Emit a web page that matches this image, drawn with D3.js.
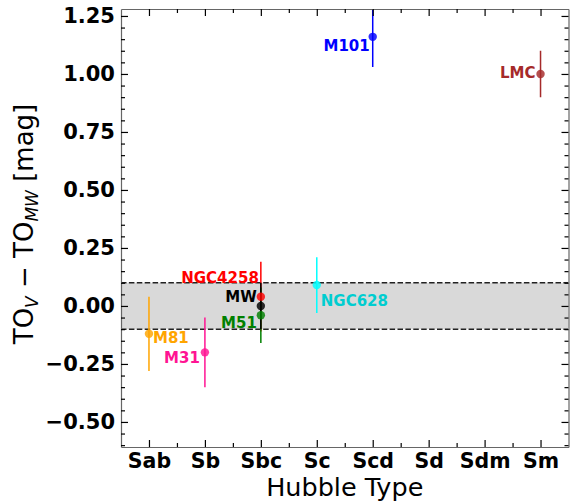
<!DOCTYPE html>
<html>
<head>
<meta charset="utf-8">
<script src="https://cdn.jsdelivr.net/npm/d3@7"></script>
<style>
  body { margin: 0; background: #fff; }
  svg { display: block; }
</style>
</head>
<body>
<svg id="chart" width="570" height="503"></svg>
<script>
// Hubble types along the x axis
const hubbleTypes = ["Sab", "Sb", "Sbc", "Sc", "Scd", "Sd", "Sdm", "Sm"];

// Galaxies, their morphological type, turnoff offset and its uncertainty
const galaxies    = ["M81", "M31", "NGC4258", "M51", "MW", "NGC628", "M101", "LMC"];
const galaxyTypes = ["Sab", "Sb",  "Sbc",     "Sbc", "Sbc", "Sc",    "Scd",  "Sm"];
const deltaTO     = [-0.12, -0.20, 0.04,      -0.04, 0.00,  0.09,    1.16,   1.00];
const deltaErr    = [0.16,  0.15,  0.15,      0.12,  0.10,  0.12,    0.13,   0.10];

// Y axis ticks and the shaded +/- band around the Milky Way value
const yTicks = [-0.50, -0.25, 0.00, 0.25, 0.50, 0.75, 1.00, 1.25];
const bandHalfWidth = [0.10];

// Appearance of each galaxy
const colorOf = {
  M81: "#ffa500", M31: "#ff1493", NGC4258: "#ff0000", M51: "#008000",
  MW: "#000000", NGC628: "#00ffff", M101: "#0000ff", LMC: "#a52a2a"
};
const textColorOf = Object.assign({}, colorOf, { NGC628: "#00cdd0" });
// Label placement relative to each marker
const labelLayout = {
  M81:     { dx: 4,  dy: 9,   anchor: "start" },
  M31:     { dx: -5, dy: 11,  anchor: "end" },
  NGC4258: { dx: -2, dy: -14, anchor: "end" },
  M51:     { dx: -4, dy: 13,  anchor: "end" },
  MW:      { dx: -4, dy: -4,  anchor: "end" },
  NGC628:  { dx: 4,  dy: 21,  anchor: "start" },
  M101:    { dx: -3, dy: 14,  anchor: "end" },
  LMC:     { dx: -5, dy: 4,   anchor: "end" }
};
// Bars are drawn in this order so the Milky Way bar sits on top
const barOrder = ["M81", "M31", "NGC4258", "M51", "MW", "NGC628", "M101", "LMC"];

const svg = d3.select("#chart");
const plotLeft = 121, plotRight = 568.5, plotTop = 9, plotBottom = 447;

const x = d3.scalePoint().domain(hubbleTypes).range([plotLeft, plotRight]).padding(0.5);
const y = d3.scaleLinear().domain([-0.608, 1.28]).range([plotBottom, plotTop]);

const font = "'DejaVu Sans', 'Liberation Sans', sans-serif";

const rows = galaxies.map((g, i) => ({
  name: g, type: galaxyTypes[i], value: deltaTO[i], err: deltaErr[i]
}));

// clipping for the plot area
svg.append("defs").append("clipPath").attr("id", "plotClip")
  .append("rect").attr("x", plotLeft).attr("y", plotTop)
  .attr("width", plotRight - plotLeft).attr("height", plotBottom - plotTop);

const plot = svg.append("g").attr("clip-path", "url(#plotClip)");

// shaded band
const hw = bandHalfWidth[0];
plot.append("rect")
  .attr("x", plotLeft).attr("width", plotRight - plotLeft)
  .attr("y", y(hw)).attr("height", y(-hw) - y(hw))
  .attr("fill", "#d9d9d9");

plot.selectAll("line.band")
  .data([hw, -hw])
  .join("line")
  .attr("class", "band")
  .attr("x1", plotLeft).attr("x2", plotRight)
  .attr("y1", d => y(d)).attr("y2", d => y(d))
  .attr("stroke", "#222").attr("stroke-width", 1.5)
  .attr("stroke-dasharray", "5.5,2.4");

// error bars
const byName = Object.fromEntries(rows.map(r => [r.name, r]));
plot.selectAll("line.err")
  .data(barOrder.map(n => byName[n]))
  .join("line")
  .attr("class", "err")
  .attr("x1", d => x(d.type)).attr("x2", d => x(d.type))
  .attr("y1", d => y(d.value + d.err)).attr("y2", d => y(d.value - d.err))
  .attr("stroke", d => colorOf[d.name]).attr("stroke-width", 1.5);

// markers
plot.selectAll("circle.pt")
  .data(barOrder.map(n => byName[n]))
  .join("circle")
  .attr("class", "pt")
  .attr("cx", d => x(d.type)).attr("cy", d => y(d.value))
  .attr("r", 4.2)
  .attr("fill", d => colorOf[d.name])
  .attr("fill-opacity", 0.82);

// galaxy labels
svg.append("g").selectAll("text.lbl")
  .data(rows)
  .join("text")
  .attr("class", "lbl")
  .attr("x", d => x(d.type) + labelLayout[d.name].dx)
  .attr("y", d => y(d.value) + labelLayout[d.name].dy)
  .attr("text-anchor", d => labelLayout[d.name].anchor)
  .attr("fill", d => textColorOf[d.name])
  .style("font-family", font).style("font-weight", "bold").style("font-size", "15px")
  .text(d => d.name);

// axes
const fmt = d3.format(".2f");
const majorLen = 7, minorLen = 4;
const minorY = d3.range(-0.60, 1.2801, 0.05)
  .map(v => Math.round(v * 100) / 100)
  .filter(v => !yTicks.some(t => Math.abs(t - v) < 1e-6));
const minorX = d3.range(hubbleTypes.length - 1)
  .map(i => (x(hubbleTypes[i]) + x(hubbleTypes[i + 1])) / 2);
const xLin = d3.scaleIdentity().domain([plotLeft, plotRight]);

function styleAxis(g, size) {
  g.select(".domain").attr("stroke", "#666").attr("stroke-width", 1.2);
  g.selectAll(".tick line").attr("stroke", "#000").attr("stroke-width", 1.2);
  g.selectAll(".tick text")
    .style("font-family", font).style("font-weight", "bold").style("font-size", (size || 21) + "px")
    .attr("fill", "#000");
}

// left
svg.append("g").attr("transform", `translate(${plotLeft},0)`)
  .call(d3.axisLeft(y).tickValues(yTicks).tickFormat(fmt)
    .tickSize(-majorLen).tickSizeOuter(0).tickPadding(6))
  .call(styleAxis, 21);
svg.append("g").attr("transform", `translate(${plotLeft},0)`)
  .call(d3.axisLeft(y).tickValues(minorY).tickFormat("").tickSize(-minorLen).tickSizeOuter(0))
  .call(styleAxis).call(g => g.select(".domain").remove());
// right
svg.append("g").attr("transform", `translate(${plotRight},0)`)
  .call(d3.axisRight(y).tickValues(yTicks).tickFormat("").tickSize(-majorLen).tickSizeOuter(0))
  .call(styleAxis);
svg.append("g").attr("transform", `translate(${plotRight},0)`)
  .call(d3.axisRight(y).tickValues(minorY).tickFormat("").tickSize(-minorLen).tickSizeOuter(0))
  .call(styleAxis).call(g => g.select(".domain").remove());
// bottom
svg.append("g").attr("transform", `translate(0,${plotBottom})`)
  .call(d3.axisBottom(x).tickSize(-majorLen).tickSizeOuter(0).tickPadding(6))
  .call(styleAxis, 20.5);
svg.append("g").attr("transform", `translate(0,${plotBottom})`)
  .call(d3.axisBottom(xLin).tickValues(minorX).tickFormat("").tickSize(-minorLen).tickSizeOuter(0))
  .call(styleAxis).call(g => g.select(".domain").remove());
// top
svg.append("g").attr("transform", `translate(0,${plotTop})`)
  .call(d3.axisTop(x).tickFormat("").tickSize(-majorLen).tickSizeOuter(0))
  .call(styleAxis);
svg.append("g").attr("transform", `translate(0,${plotTop})`)
  .call(d3.axisTop(xLin).tickValues(minorX).tickFormat("").tickSize(-minorLen).tickSizeOuter(0))
  .call(styleAxis).call(g => g.select(".domain").remove());

// axis titles
svg.append("text")
  .attr("x", (plotLeft + plotRight) / 2).attr("y", 496)
  .attr("text-anchor", "middle")
  .style("font-family", font).style("font-size", "25.5px")
  .text("Hubble Type");

const yTitle = svg.append("text")
  .attr("transform", "translate(33,224) rotate(-90)")
  .attr("text-anchor", "middle")
  .style("font-family", font).style("font-size", "26px");
yTitle.append("tspan").text("TO");
yTitle.append("tspan").attr("dy", 5).style("font-size", "17px").style("font-style", "italic").text("V");
yTitle.append("tspan").attr("dy", -5).text(" \u2212 TO");
yTitle.append("tspan").attr("dy", 5).style("font-size", "17px").style("font-style", "italic").text("MW");
yTitle.append("tspan").attr("dy", -5).text(" [mag]");
</script>
</body>
</html>
